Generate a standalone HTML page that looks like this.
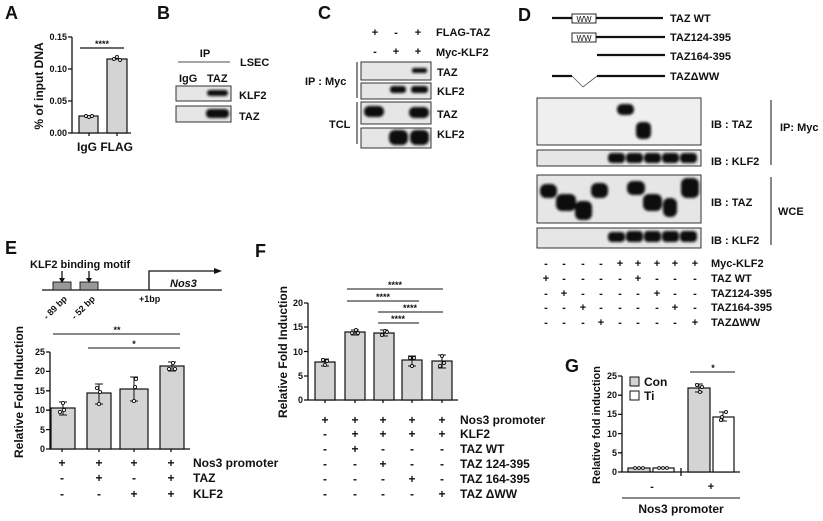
<!DOCTYPE html>
<html><head><meta charset="utf-8"><style>
html,body{margin:0;padding:0;background:#fff}
svg{display:block}
text{font-family:"Liberation Sans",Arial,sans-serif;font-weight:bold;fill:#111}
.L{font-size:18px}
.t{font-size:9px}
.r{font-size:11px}
.q{font-size:12px}
.ax{stroke:#111;stroke-width:1.3;fill:none}
.bar{fill:#d4d4d4;stroke:#111;stroke-width:1.2}
.box{fill:#e6e6e6;stroke:#333;stroke-width:1}
.bd{fill:#0a0a0a}
.dot{fill:#fff;stroke:#111;stroke-width:0.9}
</style></head><body>
<svg width="823" height="521" viewBox="0 0 823 521" xmlns="http://www.w3.org/2000/svg">
<defs><filter id="bl" x="-20%" y="-50%" width="140%" height="200%"><feGaussianBlur stdDeviation="1.2"/></filter></defs>

<!-- A -->
<text class="L" x="5" y="19">A</text>
<g class="ax"><path d="M72 37V133H131"/><path d="M68 37h4M68 69h4M68 101h4M68 133h4M89 133v3M117 133v3"/></g>
<text class="t" x="67" y="40" text-anchor="end">0.15</text>
<text class="t" x="67" y="72" text-anchor="end">0.10</text>
<text class="t" x="67" y="104" text-anchor="end">0.05</text>
<text class="t" x="67" y="136" text-anchor="end">0.00</text>
<rect class="bar" x="79" y="116" width="19" height="17"/>
<rect class="bar" x="107" y="59" width="20" height="74"/>
<circle class="dot" cx="86" cy="116" r="1.5"/><circle class="dot" cx="89" cy="117" r="1.5"/><circle class="dot" cx="92" cy="116" r="1.5"/>
<circle class="dot" cx="114" cy="59" r="1.5"/><circle class="dot" cx="117" cy="57" r="1.5"/><circle class="dot" cx="120" cy="60" r="1.5"/>
<path class="ax" d="M80 48H124"/><text class="t" x="102" y="47" text-anchor="middle">****</text>
<text style="font-size:12px" x="77" y="151">IgG FLAG</text>
<text style="font-size:12px" transform="translate(43,86) rotate(-90)" text-anchor="middle">% of input DNA</text>

<!-- B -->
<text class="L" x="157" y="19">B</text>
<text class="r" x="205" y="57" text-anchor="middle">IP</text>
<path class="ax" d="M178 62H230" style="stroke-width:0.8"/>
<text class="r" x="240" y="66">LSEC</text>
<text class="r" x="179" y="82">IgG</text><text class="r" x="207" y="82">TAZ</text>
<rect class="box" x="176" y="86" width="55" height="15"/>
<rect class="box" x="176" y="106" width="55" height="16"/>
<rect class="bd" filter="url(#bl)" x="207" y="90" width="21" height="6" rx="3"/>
<rect class="bd" filter="url(#bl)" x="206" y="109" width="23" height="9" rx="4"/>
<text class="r" x="239" y="99">KLF2</text><text class="r" x="239" y="120">TAZ</text>

<!-- C -->
<text class="L" x="318" y="19">C</text>
<g class="r" text-anchor="middle"><text x="375" y="36">+</text><text x="396" y="36">-</text><text x="418" y="36">+</text>
<text x="375" y="55">-</text><text x="396" y="55">+</text><text x="418" y="55">+</text></g>
<text class="r" x="436" y="36">FLAG-TAZ</text><text class="r" x="436" y="56">Myc-KLF2</text>
<rect class="box" x="361" y="62" width="70" height="18"/>
<rect class="box" x="361" y="83" width="70" height="16"/>
<rect class="box" x="361" y="102" width="70" height="22"/>
<rect class="box" x="361" y="128" width="70" height="20"/>
<rect class="bd" filter="url(#bl)" x="412" y="68" width="15" height="5" rx="2"/>
<rect class="bd" filter="url(#bl)" x="390" y="86" width="16" height="7" rx="3"/><rect class="bd" filter="url(#bl)" x="411" y="86" width="17" height="7" rx="3"/>
<rect class="bd" filter="url(#bl)" x="364" y="106" width="20" height="11" rx="5"/><rect class="bd" filter="url(#bl)" x="409" y="107" width="20" height="11" rx="5"/>
<rect class="bd" filter="url(#bl)" x="389" y="130" width="19" height="15" rx="6"/><rect class="bd" filter="url(#bl)" x="410" y="130" width="19" height="15" rx="6"/>
<path class="ax" d="M357 62V98M357 102V144" style="stroke-width:1"/>
<text class="r" x="305" y="85">IP : Myc</text><text class="r" x="329" y="128">TCL</text>
<text class="r" x="437" y="76">TAZ</text><text class="r" x="437" y="95">KLF2</text><text class="r" x="437" y="118">TAZ</text><text class="r" x="437" y="138">KLF2</text>

<!-- D -->
<text class="L" x="518" y="21">D</text>
<g stroke="#111" stroke-width="2.2" fill="none">
<path d="M552 18H663"/><path d="M596 37H665"/><path d="M597 55H665"/><path d="M552 76H572M597 76H665"/></g>
<path d="M572 76L583 87L597 76" stroke="#555" stroke-width="0.8" fill="none"/>
<rect x="572" y="14" width="24" height="9" fill="#fff" stroke="#111" stroke-width="0.9"/><text x="584" y="22" text-anchor="middle" style="font-size:8px;font-weight:normal">WW</text>
<rect x="572" y="33" width="24" height="9" fill="#fff" stroke="#111" stroke-width="0.9"/><text x="584" y="41" text-anchor="middle" style="font-size:8px;font-weight:normal">WW</text>
<text class="r" x="670" y="22">TAZ WT</text><text class="r" x="670" y="41">TAZ124-395</text><text class="r" x="670" y="60">TAZ164-395</text><text class="r" x="670" y="80">TAZΔWW</text>
<rect class="box" x="537" y="98" width="164" height="47" style="fill:#efefef"/>
<rect class="box" x="537" y="150" width="164" height="16"/>
<rect class="box" x="537" y="175" width="164" height="48"/>
<rect class="box" x="537" y="228" width="164" height="20"/>
<g class="bd" filter="url(#bl)">
<rect x="617" y="104" width="17" height="11" rx="5"/><rect x="636" y="122" width="15" height="17" rx="5"/>
<rect x="608" y="153" width="17" height="10" rx="4"/><rect x="626" y="153" width="17" height="10" rx="4"/><rect x="644" y="153" width="17" height="10" rx="4"/><rect x="662" y="153" width="17" height="10" rx="4"/><rect x="680" y="153" width="17" height="10" rx="4"/>
<rect x="540" y="184" width="17" height="14" rx="6"/><rect x="556" y="194" width="20" height="17" rx="6"/><rect x="575" y="201" width="17" height="19" rx="6"/><rect x="591" y="183" width="17" height="15" rx="6"/>
<rect x="627" y="181" width="18" height="14" rx="6"/><rect x="643" y="194" width="19" height="17" rx="6"/><rect x="663" y="198" width="14" height="19" rx="6"/><rect x="681" y="178" width="18" height="20" rx="6"/>
<rect x="608" y="232" width="17" height="10" rx="4"/><rect x="626" y="231" width="17" height="11" rx="4"/><rect x="644" y="231" width="17" height="11" rx="4"/><rect x="662" y="231" width="17" height="11" rx="4"/><rect x="680" y="231" width="17" height="11" rx="4"/>
</g>
<text class="r" x="711" y="128">IB : TAZ</text><text class="r" x="711" y="165">IB : KLF2</text>
<text class="r" x="711" y="206">IB : TAZ</text><text class="r" x="711" y="244">IB : KLF2</text>
<path class="ax" d="M771 100V165M771 177V245" style="stroke-width:1"/>
<text class="r" x="780" y="131">IP: Myc</text><text class="r" x="778" y="215">WCE</text>
<g class="r" text-anchor="middle">
<text x="546" y="267">-</text><text x="564" y="267">-</text><text x="583" y="267">-</text><text x="601" y="267">-</text><text x="620" y="267">+</text><text x="638" y="267">+</text><text x="657" y="267">+</text><text x="675" y="267">+</text><text x="695" y="267">+</text>
<text x="546" y="282">+</text><text x="564" y="282">-</text><text x="583" y="282">-</text><text x="601" y="282">-</text><text x="620" y="282">-</text><text x="638" y="282">+</text><text x="657" y="282">-</text><text x="675" y="282">-</text><text x="695" y="282">-</text>
<text x="546" y="297">-</text><text x="564" y="297">+</text><text x="583" y="297">-</text><text x="601" y="297">-</text><text x="620" y="297">-</text><text x="638" y="297">-</text><text x="657" y="297">+</text><text x="675" y="297">-</text><text x="695" y="297">-</text>
<text x="546" y="311">-</text><text x="564" y="311">-</text><text x="583" y="311">+</text><text x="601" y="311">-</text><text x="620" y="311">-</text><text x="638" y="311">-</text><text x="657" y="311">-</text><text x="675" y="311">+</text><text x="695" y="311">-</text>
<text x="546" y="326">-</text><text x="564" y="326">-</text><text x="583" y="326">-</text><text x="601" y="326">+</text><text x="620" y="326">-</text><text x="638" y="326">-</text><text x="657" y="326">-</text><text x="675" y="326">-</text><text x="695" y="326">+</text>
</g>
<text class="r" x="711" y="267">Myc-KLF2</text><text class="r" x="711" y="282">TAZ WT</text><text class="r" x="711" y="297">TAZ124-395</text><text class="r" x="711" y="311">TAZ164-395</text><text class="r" x="711" y="326">TAZΔWW</text>

<!-- E -->
<text class="L" x="5" y="254">E</text>
<text class="r" x="30" y="268">KLF2 binding motif</text>
<path class="ax" d="M42 290H222"/>
<rect x="53" y="282" width="18" height="8" fill="#999" stroke="#111" stroke-width="0.9"/>
<rect x="80" y="282" width="18" height="8" fill="#999" stroke="#111" stroke-width="0.9"/>
<path class="ax" d="M62 271V281M89 271V281"/><path d="M59 278L62 283L65 278ZM86 278L89 283L92 278Z" fill="#111"/>
<path class="ax" d="M149 290V271H215"/><path d="M214 268L222 271L214 274Z" fill="#111"/>
<text class="r" x="170" y="287" style="font-style:italic">Nos3</text>
<text class="t" x="139" y="302">+1bp</text>
<text class="t" transform="translate(47,320) rotate(-45)">- 89 bp</text>
<text class="t" transform="translate(75,320) rotate(-45)">- 52 bp</text>
<g class="ax"><path d="M50 352V449H190"/><path d="M46 352h4M46 371.4h4M46 390.8h4M46 410.2h4M46 429.6h4M46 449h4M62 449v3M99 449v3M134 449v3M171 449v3"/></g>
<g class="t" text-anchor="end"><text x="45" y="355">25</text><text x="45" y="374">20</text><text x="45" y="394">15</text><text x="45" y="413">10</text><text x="45" y="433">5</text><text x="45" y="452">0</text></g>
<rect class="bar" x="51" y="408" width="24" height="41"/>
<rect class="bar" x="87" y="393" width="24" height="56"/>
<rect class="bar" x="120" y="389" width="28" height="60"/>
<rect class="bar" x="160" y="366" width="24" height="83"/>
<g class="ax" style="stroke-width:1"><path d="M63 402V415M59 402h8M59 415h8M99 384V404M95 384h8M95 404h8M134 377V401M130 377h8M130 401h8M172 362V371M168 362h8M168 371h8"/></g>
<circle class="dot" cx="60" cy="412" r="1.6"/><circle class="dot" cx="64" cy="410" r="1.6"/><circle class="dot" cx="63" cy="403" r="1.6"/>
<circle class="dot" cx="97" cy="388" r="1.6"/><circle class="dot" cx="100" cy="392" r="1.6"/><circle class="dot" cx="99" cy="404" r="1.6"/>
<circle class="dot" cx="136" cy="379" r="1.6"/><circle class="dot" cx="135" cy="387" r="1.6"/><circle class="dot" cx="134" cy="401" r="1.6"/>
<circle class="dot" cx="169" cy="369" r="1.6"/><circle class="dot" cx="173" cy="363" r="1.6"/><circle class="dot" cx="175" cy="369" r="1.6"/>
<path class="ax" d="M53 334H180M88 348H180" style="stroke-width:1"/>
<text class="t" x="117" y="333" text-anchor="middle">**</text><text class="t" x="134" y="347" text-anchor="middle">*</text>
<text style="font-size:12px" transform="translate(23,392) rotate(-90)" text-anchor="middle">Relative Fold Induction</text>
<g class="q" text-anchor="middle">
<text x="62" y="467">+</text><text x="99" y="467">+</text><text x="134" y="467">+</text><text x="171" y="467">+</text>
<text x="62" y="482">-</text><text x="99" y="482">+</text><text x="134" y="482">-</text><text x="171" y="482">+</text>
<text x="62" y="498">-</text><text x="99" y="498">-</text><text x="134" y="498">+</text><text x="171" y="498">+</text></g>
<text class="q" x="193" y="467">Nos3 promoter</text><text class="q" x="193" y="482">TAZ</text><text class="q" x="193" y="498">KLF2</text>

<!-- F -->
<text class="L" x="255" y="257">F</text>
<g class="ax"><path d="M308 303V400H458"/><path d="M304 303h4M304 327h4M304 351.5h4M304 376h4M304 400h4M325 400v3M355 400v3M383 400v3M412 400v3M442 400v3"/></g>
<g class="t" text-anchor="end"><text x="303" y="306">20</text><text x="303" y="330">15</text><text x="303" y="355">10</text><text x="303" y="379">5</text><text x="303" y="403">0</text></g>
<rect class="bar" x="315" y="362" width="20" height="38"/>
<rect class="bar" x="345" y="332" width="20" height="68"/>
<rect class="bar" x="374" y="333" width="20" height="67"/>
<rect class="bar" x="402" y="360" width="20" height="40"/>
<rect class="bar" x="432" y="361" width="20" height="39"/>
<g class="ax" style="stroke-width:1"><path d="M325 359V366M321 359h8M321 366h8M355 330V335M351 330h8M351 335h8M384 330V336M380 330h8M380 336h8M412 356V366M408 356h8M408 366h8M442 355V368M438 355h8M438 368h8"/></g>
<circle class="dot" cx="323" cy="360" r="1.5"/><circle class="dot" cx="327" cy="361" r="1.5"/><circle class="dot" cx="325" cy="365" r="1.5"/>
<circle class="dot" cx="352" cy="333" r="1.5"/><circle class="dot" cx="356" cy="330" r="1.5"/><circle class="dot" cx="358" cy="333" r="1.5"/>
<circle class="dot" cx="382" cy="335" r="1.5"/><circle class="dot" cx="385" cy="331" r="1.5"/><circle class="dot" cx="387" cy="332" r="1.5"/>
<circle class="dot" cx="410" cy="358" r="1.5"/><circle class="dot" cx="414" cy="358" r="1.5"/><circle class="dot" cx="412" cy="366" r="1.5"/>
<circle class="dot" cx="442" cy="356" r="1.5"/><circle class="dot" cx="440" cy="366" r="1.5"/><circle class="dot" cx="444" cy="363" r="1.5"/>
<path class="ax" d="M347 289H443M347 301H419M378 312H443M378 323H419" style="stroke-width:1"/>
<g class="t" text-anchor="middle"><text x="395" y="288">****</text><text x="383" y="300">****</text><text x="410" y="311">****</text><text x="398" y="322">****</text></g>
<text style="font-size:12px" transform="translate(287,352) rotate(-90)" text-anchor="middle">Relative Fold Induction</text>
<g class="q" text-anchor="middle">
<text x="325" y="424">+</text><text x="355" y="424">+</text><text x="383" y="424">+</text><text x="412" y="424">+</text><text x="442" y="424">+</text>
<text x="325" y="438">-</text><text x="355" y="438">+</text><text x="383" y="438">+</text><text x="412" y="438">+</text><text x="442" y="438">+</text>
<text x="325" y="453">-</text><text x="355" y="453">+</text><text x="383" y="453">-</text><text x="412" y="453">-</text><text x="442" y="453">-</text>
<text x="325" y="468">-</text><text x="355" y="468">-</text><text x="383" y="468">+</text><text x="412" y="468">-</text><text x="442" y="468">-</text>
<text x="325" y="483">-</text><text x="355" y="483">-</text><text x="383" y="483">-</text><text x="412" y="483">+</text><text x="442" y="483">-</text>
<text x="325" y="498">-</text><text x="355" y="498">-</text><text x="383" y="498">-</text><text x="412" y="498">-</text><text x="442" y="498">+</text></g>
<g class="q"><text x="460" y="424">Nos3 promoter</text><text x="460" y="438">KLF2</text><text x="460" y="453">TAZ WT</text><text x="460" y="468">TAZ 124-395</text><text x="460" y="483">TAZ 164-395</text><text x="460" y="498">TAZ ΔWW</text></g>

<!-- G -->
<text class="L" x="565" y="372">G</text>
<g class="ax"><path d="M622 376V472H740"/><path d="M618 376h4M618 395.2h4M618 414.4h4M618 433.6h4M618 452.8h4M618 472h4M681 468v8"/></g>
<g class="t" text-anchor="end"><text x="617" y="379">25</text><text x="617" y="398">20</text><text x="617" y="417">15</text><text x="617" y="437">10</text><text x="617" y="456">5</text><text x="617" y="475">0</text></g>
<rect class="bar" x="628" y="468" width="22" height="4"/>
<rect x="653" y="468" width="21" height="4" fill="#fff" stroke="#111" stroke-width="1.2"/>
<rect class="bar" x="688" y="388" width="22" height="84"/>
<rect x="713" y="417" width="21" height="55" fill="#fff" stroke="#111" stroke-width="1.2"/>
<g class="ax" style="stroke-width:1"><path d="M699 384V392M695 384h8M695 392h8M723 412V421M719 412h8M719 421h8"/></g>
<circle class="dot" cx="635" cy="468" r="1.4"/><circle class="dot" cx="639" cy="468" r="1.4"/><circle class="dot" cx="643" cy="468" r="1.4"/>
<circle class="dot" cx="659" cy="468" r="1.4"/><circle class="dot" cx="663" cy="468" r="1.4"/><circle class="dot" cx="667" cy="468" r="1.4"/>
<circle class="dot" cx="697" cy="385" r="1.5"/><circle class="dot" cx="700" cy="392" r="1.5"/><circle class="dot" cx="702" cy="387" r="1.5"/>
<circle class="dot" cx="722" cy="417" r="1.5"/><circle class="dot" cx="726" cy="412" r="1.5"/><circle class="dot" cx="721" cy="420" r="1.5"/>
<path class="ax" d="M690 372H735" style="stroke-width:1"/><text class="t" x="713" y="371" text-anchor="middle">*</text>
<rect x="630" y="377" width="9" height="9" fill="#d4d4d4" stroke="#111"/><text class="q" x="644" y="386">Con</text>
<rect x="630" y="391" width="9" height="9" fill="#fff" stroke="#111"/><text class="q" x="644" y="400">Ti</text>
<text class="r" x="652" y="490" text-anchor="middle">-</text><text class="r" x="711" y="490" text-anchor="middle">+</text>
<path class="ax" d="M622 498H740" style="stroke-width:1"/>
<text class="q" x="681" y="513" text-anchor="middle">Nos3 promoter</text>
<text style="font-size:11px" transform="translate(600,425) rotate(-90)" text-anchor="middle">Relative fold induction</text>
</svg>
</body></html>
